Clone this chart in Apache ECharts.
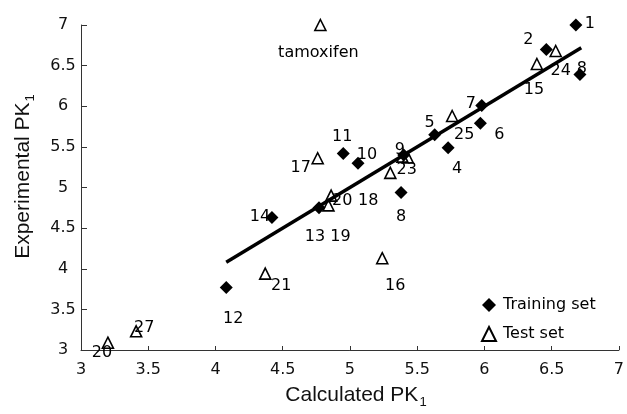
<!DOCTYPE html>
<html>
<head>
<meta charset="utf-8">
<script src="https://cdn.jsdelivr.net/npm/echarts@6/dist/echarts.min.js"></script>
<style>
  html, body { margin: 0; padding: 0; background: #fff; }
  #chart { width: 627px; height: 414px; }
</style>
</head>
<body>
<div id="chart"></div>
<script>
// ---- Data ----
const trainNames = ['1', '2', '8', '4', '5', '6', '7', '8', '9', '10', '11', '12', '13', '14'];
const trainCalc  = [6.68, 6.46, 6.71, 5.73, 5.63, 5.97, 5.98, 5.38, 5.40, 5.06, 4.95, 4.08, 4.77, 4.42];
const trainExp   = [7.00, 6.70, 6.39, 5.49, 5.65, 5.79, 6.01, 4.94, 5.40, 5.30, 5.42, 3.77, 4.75, 4.63];

const testNames = ['tamoxifen', '15', '16', '17', '18', '19', '20', '21', '', '23', '24', '25', '20', '27'];
const testCalc  = [4.78, 6.39, 5.24, 4.76, 5.30, 4.84, 4.86, 4.37, 5.39, 5.43, 6.53, 5.76, 3.20, 3.41];
const testExp   = [7.00, 6.52, 4.13, 5.36, 5.18, 4.78, 4.90, 3.94, 5.38, 5.37, 6.68, 5.88, 3.09, 3.23];

const fitCalc = [4.08, 6.72];
const fitExp  = [4.08, 6.72];

const axisMin = 3, axisMax = 7, axisStep = 0.5;

// ---- Layout: label offsets in pixels (not data) ----
const trainLabelOffsets = [[14,-1],[-18,-10],[2,-6],[9,21],[-5,-12],[19,12],[-11,-2],[0,24],[-4,-5],[9,-8],[-1,-17],[7,31],[-4,29],[-12,-1]];
const testLabelOffsets  = [[-2,28],[-3,26],[13,28],[-17,10],[-22,28],[12,31],[11,5],[16,12],[0,0],[-1,12],[5,20],[12,19],[-6,10],[8,-3]];

const labelFont = 'DejaVu Sans';
function buildPoints(xs, ys, names, offs) {
  return xs.map((x, i) => ({
    value: [x, ys[i]],
    label: {
      show: names[i] !== '',
      formatter: names[i],
      position: 'inside',
      offset: offs[i],
      color: '#000',
      fontFamily: labelFont,
      fontSize: 16
    }
  }));
}

const chart = echarts.init(document.getElementById('chart'), null, { renderer: 'canvas' });

const nameRich = {
  a: { fontFamily: 'Liberation Sans', fontSize: 21, color: '#111' },
  b: { fontFamily: 'Liberation Sans', fontSize: 13, color: '#111', verticalAlign: 'bottom', padding: [0, 0, -3, 1] }
};

chart.setOption({
  animation: false,
  backgroundColor: '#fff',
  grid: { left: 81, right: 8, top: 25, bottom: 59, containLabel: false },
  legend: {
    orient: 'vertical',
    left: 476,
    top: 292,
    itemWidth: 14,
    itemHeight: 14,
    itemGap: 13,
    data: ['Training set', 'Test set'],
    textStyle: { fontFamily: labelFont, fontSize: 16, color: '#000', padding: [0, 0, 0, 2] }
  },
  xAxis: {
    type: 'value',
    min: axisMin, max: axisMax, interval: axisStep,
    name: '{a|Calculated PK}{b|1}',
    nameLocation: 'middle',
    nameGap: 35,
    nameTextStyle: { rich: nameRich, padding: [0, 0, 0, 12] },
    axisLine: { show: true, onZero: false, lineStyle: { color: '#333', width: 1 } },
    axisTick: { show: true, inside: true, length: 4, lineStyle: { color: '#333' } },
    axisLabel: { margin: 12, color: '#111', fontFamily: labelFont, fontSize: 16 },
    splitLine: { show: false }
  },
  yAxis: {
    type: 'value',
    min: axisMin, max: axisMax, interval: axisStep,
    name: '{a|Experimental PK}{b|1}',
    nameLocation: 'middle',
    nameRotate: 90,
    nameGap: 47,
    nameTextStyle: { rich: nameRich, padding: [0, 0, 0, 22] },
    axisLine: { show: true, onZero: false, lineStyle: { color: '#333', width: 1 } },
    axisTick: { show: true, inside: true, length: 6, lineStyle: { color: '#333' } },
    axisLabel: { margin: 18, align: 'center', color: '#111', fontFamily: labelFont, fontSize: 16 },
    splitLine: { show: false }
  },
  series: [
    {
      type: 'line',
      name: 'fit',
      data: fitCalc.map((x, i) => [x, fitExp[i]]),
      showSymbol: false,
      symbol: 'none',
      lineStyle: { color: '#000', width: 3.5 },
      z: 1,
      silent: true
    },
    {
      type: 'scatter',
      name: 'Training set',
      symbol: 'diamond',
      symbolSize: 13,
      itemStyle: { color: '#000', opacity: 1 },
      data: buildPoints(trainCalc, trainExp, trainNames, trainLabelOffsets),
      z: 3,
      emphasis: { disabled: true }
    },
    {
      type: 'scatter',
      name: 'Test set',
      symbol: 'triangle',
      symbolSize: 11,
      itemStyle: { color: 'rgba(255,255,255,0)', borderColor: '#000', borderWidth: 1.6, opacity: 1 },
      data: buildPoints(testCalc, testExp, testNames, testLabelOffsets),
      z: 4,
      emphasis: { disabled: true }
    }
  ]
});
</script>
</body>
</html>
